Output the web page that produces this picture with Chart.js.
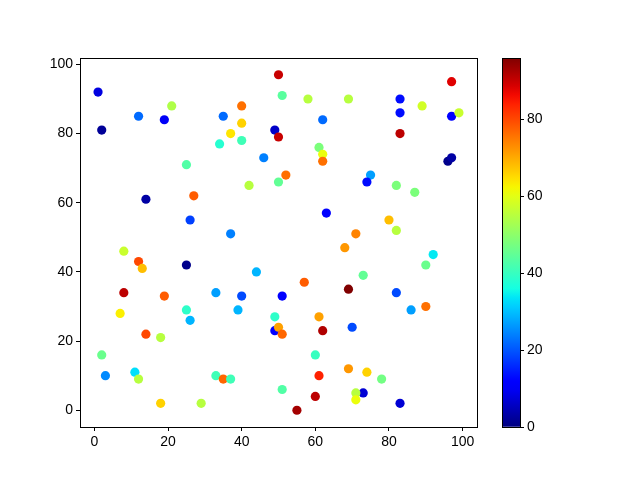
<!DOCTYPE html>
<html>
<head>
<meta charset="utf-8">
<script src="https://cdn.jsdelivr.net/npm/chart.js@4"></script>
<style>
  body { margin: 0; background: #fff; }
  #wrap { position: relative; width: 640px; height: 480px; }
  #cb { position: absolute; left: 490px; top: 0; }
</style>
</head>
<body>
<div id="wrap">
  <canvas id="myChart" width="640" height="480"></canvas>
  <canvas id="cb" width="150" height="480"></canvas>
</div>
<script>
// scatter data
const xs = [1, 21, 12, 19, 2, 25, 14, 27, 26, 50, 51, 58, 69, 40, 35, 62, 40, 37, 49, 50,
  34, 40, 61, 62, 62, 46, 52, 42, 50, 63, 37, 97, 83, 83, 89, 97, 99, 83, 96, 97,
  75, 74, 82, 87, 80, 82, 71, 8, 12, 13, 25, 8, 19, 33, 7, 25, 26, 14, 18, 2,
  3, 11, 12, 18, 29, 33, 68, 44, 57, 69, 40, 51, 39, 49, 61, 49, 50, 51, 62, 60,
  69, 35, 37, 61, 51, 60, 55, 92, 90, 73, 82, 86, 90, 70, 74, 78, 73, 71, 71, 83];
const ys = [92, 88, 85, 84, 81, 71, 61, 62, 55, 97, 91, 90, 90, 88, 85, 84, 83, 80, 81, 79,
  77, 78, 76, 74, 72, 73, 68, 65, 66, 57, 51, 95, 90, 86, 88, 85, 86, 80, 72, 73,
  68, 66, 65, 63, 55, 52, 51, 46, 43, 41, 42, 34, 33, 34, 28, 29, 26, 22, 21, 16,
  10, 11, 9, 2, 2, 10, 47, 40, 37, 35, 33, 33, 29, 27, 27, 23, 24, 22, 23, 16,
  12, 9, 9, 10, 6, 4, 0, 45, 42, 39, 34, 29, 30, 24, 11, 9, 5, 5, 3, 2];
// colour values (0..96)
const vals = [8, 54, 22, 10, 2, 43, 3, 78, 18, 90, 44, 55, 55, 76, 22, 22, 66, 64, 6, 90,
  38, 41, 48, 61, 76, 24, 76, 55, 45, 12, 24, 88, 13, 13, 58, 12, 57, 91, 1, 3,
  27, 13, 48, 48, 68, 55, 74, 57, 80, 68, 1, 91, 78, 27, 63, 39, 29, 80, 55, 46,
  25, 33, 55, 66, 55, 41, 72, 29, 78, 96, 19, 11, 29, 39, 71, 11, 71, 77, 92, 40,
  72, 77, 41, 84, 43, 91, 93, 34, 46, 45, 19, 27, 76, 19, 66, 47, 7, 55, 61, 7];
const vmin = 0, vmax = 96;
const axisTicks = [0, 20, 40, 60, 80, 100];
const cbTicks = [0, 20, 40, 60, 80];

// matplotlib jet
function seg(t, pts) {
  for (let i = 1; i < pts.length; i++) {
    if (t <= pts[i][0]) {
      const [x0, y0] = pts[i - 1], [x1, y1] = pts[i];
      return y0 + (y1 - y0) * (t - x0) / (x1 - x0);
    }
  }
  return pts[pts.length - 1][1];
}
function jet(t) {
  t = Math.max(0, Math.min(1, t));
  const r = seg(t, [[0, 0], [0.35, 0], [0.66, 1], [0.89, 1], [1, 0.5]]);
  const g = seg(t, [[0, 0], [0.125, 0], [0.375, 1], [0.64, 1], [0.91, 0], [1, 0]]);
  const b = seg(t, [[0, 0.5], [0.11, 1], [0.34, 1], [0.65, 0], [1, 0]]);
  return `rgb(${Math.round(r * 255)},${Math.round(g * 255)},${Math.round(b * 255)})`;
}

const font = { family: 'Liberation Sans, Arial, sans-serif', size: 14 };

const frame = {
  id: 'frame',
  afterDraw(chart) {
    const a = chart.chartArea, ctx = chart.ctx;
    ctx.save();
    ctx.strokeStyle = '#000';
    ctx.lineWidth = 1;
    ctx.strokeRect(Math.round(a.left) + 0.5, Math.round(a.top) + 0.5,
      Math.round(a.right - a.left), Math.round(a.bottom - a.top));
    ctx.restore();
  }
};

function axisOpts(min, max, fit) {
  return {
    type: 'linear',
    min: min, max: max,
    afterFit: fit,
    afterBuildTicks: (s) => { s.ticks = axisTicks.map(v => ({ value: v })); },
    ticks: { color: '#000', font: font, padding: 3 },
    grid: { drawOnChartArea: false, drawTicks: true, tickLength: 4, color: '#000' },
    border: { display: true, color: '#000' }
  };
}

const points = xs.map((x, i) => ({ x: x, y: ys[i] }));

const myChart = new Chart(document.getElementById('myChart'), {
  type: 'scatter',
  data: {
    datasets: [{
      data: points,
      backgroundColor: vals.map(v => jet((v - vmin) / (vmax - vmin))),
      borderWidth: 0,
      pointRadius: 4.6,
      pointHoverRadius: 4.6
    }]
  },
  options: {
    responsive: false,
    animation: false,
    devicePixelRatio: 1,
    layout: { padding: { top: 58, right: 163, left: 0, bottom: 0 } },
    plugins: { legend: { display: false }, tooltip: { enabled: false } },
    scales: {
      x: axisOpts(-3.9, 103.9, s => { s.height = 53; }),
      y: axisOpts(-4.85, 101.85, s => { s.width = 80; })
    }
  },
  plugins: [frame]
});

// colorbar as a floating bar on its own value axis
function cbGradient(ctx) {
  const area = ctx.chart.chartArea;
  if (!area) return jet(0.5);
  const g = ctx.chart.ctx.createLinearGradient(0, area.bottom, 0, area.top);
  for (let i = 0; i <= 40; i++) g.addColorStop(i / 40, jet(i / 40));
  return g;
}

const cbChart = new Chart(document.getElementById('cb'), {
  type: 'bar',
  data: {
    labels: [''],
    datasets: [{
      data: [[vmin, vmax]],
      backgroundColor: cbGradient,
      borderWidth: 0,
      barPercentage: 1,
      categoryPercentage: 1
    }]
  },
  options: {
    responsive: false,
    animation: false,
    devicePixelRatio: 1,
    layout: { padding: { top: 58, right: 0, left: 12, bottom: 53 } },
    plugins: { legend: { display: false }, tooltip: { enabled: false } },
    scales: {
      x: { display: false },
      y: {
        position: 'right',
        min: vmin, max: vmax,
        afterFit: s => { s.width = 120; },
        afterBuildTicks: (s) => { s.ticks = cbTicks.map(v => ({ value: v })); },
        ticks: { color: '#000', font: font, padding: 3 },
        grid: { drawOnChartArea: false, drawTicks: true, tickLength: 4, color: '#000' },
        border: { display: true, color: '#000' }
      }
    }
  },
  plugins: [frame]
});
</script>
</body>
</html>
